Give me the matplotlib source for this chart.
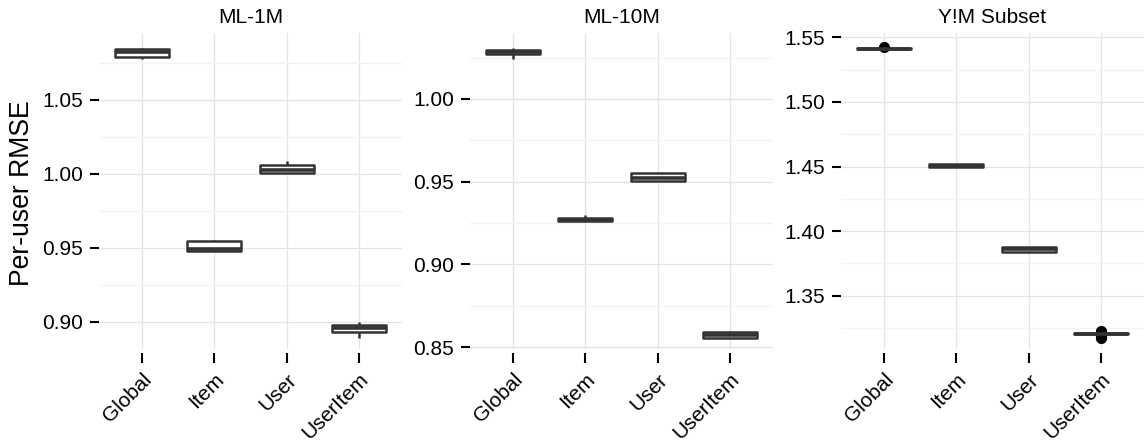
import matplotlib
matplotlib.use("Agg")
import matplotlib.pyplot as plt
from matplotlib.ticker import FixedLocator, FormatStrFormatter

plt.rcParams['font.family'] = ['Liberation Sans', 'DejaVu Sans']

categories = ["Global", "Item", "User", "UserItem"]
panel_titles = ["ML-1M", "ML-10M", "Y!M Subset"]

# ML-1M box statistics
ml1m_q1 = [1.0793, 0.9474, 1.0005, 0.8931]
ml1m_med = [1.0826, 0.9488, 1.0026, 0.8954]
ml1m_q3 = [1.0847, 0.9544, 1.0062, 0.8978]
ml1m_lo = [1.0780, 0.9474, 1.0003, 0.8886]
ml1m_hi = [1.0850, 0.9555, 1.0086, 0.8999]
ml1m_fliers = [[], [], [], []]

# ML-10M box statistics
ml10m_q1 = [1.0270, 0.9261, 0.9506, 0.8554]
ml10m_med = [1.0282, 0.9270, 0.9524, 0.8574]
ml10m_q3 = [1.0294, 0.9281, 0.9551, 0.8593]
ml10m_lo = [1.0244, 0.9258, 0.9505, 0.8552]
ml10m_hi = [1.0307, 0.9297, 0.9553, 0.8595]
ml10m_fliers = [[], [], [], []]

# Y!M Subset box statistics
ym_q1 = [1.5407, 1.4495, 1.3840, 1.3200]
ym_med = [1.5412, 1.4507, 1.3858, 1.3205]
ym_q3 = [1.5418, 1.4519, 1.3876, 1.3211]
ym_lo = [1.5405, 1.4494, 1.3827, 1.3198]
ym_hi = [1.5419, 1.4520, 1.3877, 1.3212]
ym_fliers = [[1.5424], [], [],
             [1.3226, 1.3222, 1.3218, 1.3215, 1.3194, 1.3189, 1.3183, 1.3178, 1.3172]]

ml1m_ticks = [0.90, 0.95, 1.00, 1.05]
ml10m_ticks = [0.85, 0.90, 0.95, 1.00]
ym_ticks = [1.35, 1.40, 1.45, 1.50, 1.55]

panels = [
    (ml1m_q1, ml1m_med, ml1m_q3, ml1m_lo, ml1m_hi, ml1m_fliers, ml1m_ticks, (0.8814, 1.0953)),
    (ml10m_q1, ml10m_med, ml10m_q3, ml10m_lo, ml10m_hi, ml10m_fliers, ml10m_ticks, (0.8488, 1.0399)),
    (ym_q1, ym_med, ym_q3, ym_lo, ym_hi, ym_fliers, ym_ticks, (1.3087, 1.5534)),
]

W, H = 1144, 444
fig = plt.figure(figsize=(W / 100, H / 100), dpi=100)
fig.patch.set_facecolor("white")

lefts = [99, 470, 841]
pw = 303
top_px, bot_px = 33, 349

box_col = "#333333"
major_col = "#e4e4e4"
minor_col = "#f2f2f2"

for i, (q1, med, q3, lo, hi, fl, ticks, ylim) in enumerate(panels):
    ax = fig.add_axes([lefts[i] / W, 1 - bot_px / H, pw / W, (bot_px - top_px) / H])
    for s in ax.spines.values():
        s.set_visible(False)
    ax.spines["bottom"].set_position(("outward", 3))
    stats = []
    for j, name in enumerate(categories):
        stats.append(dict(label=name, q1=q1[j], med=med[j], q3=q3[j],
                          whislo=lo[j], whishi=hi[j], fliers=fl[j]))
    pos = list(range(1, len(categories) + 1))
    ax.bxp(stats, positions=pos, widths=0.75, patch_artist=True, showcaps=False,
           boxprops=dict(facecolor="white", edgecolor=box_col, linewidth=1.8, joinstyle="round"),
           whiskerprops=dict(color=box_col, linewidth=1.8, solid_capstyle="butt"),
           medianprops=dict(color=box_col, linewidth=2.6, solid_capstyle="butt"),
           flierprops=dict(marker="o", markerfacecolor="black", markeredgecolor="black",
                           markersize=7, linestyle="none"),
           zorder=3)
    ax.set_xlim(0.4, 4.6)
    ax.set_ylim(*ylim)
    ax.yaxis.set_major_locator(FixedLocator(ticks))
    minors = [t + 0.025 for t in ticks] + [ticks[0] - 0.025]
    ax.yaxis.set_minor_locator(FixedLocator(minors))
    ax.yaxis.set_major_formatter(FormatStrFormatter("%.2f"))
    ax.set_xticks(pos)
    ax.set_xticklabels(categories)
    ax.grid(True, which="major", color=major_col, linewidth=0.9, zorder=0)
    ax.grid(True, which="minor", axis="y", color=minor_col, linewidth=0.9, zorder=0)
    ax.set_axisbelow(True)
    ax.tick_params(axis="x", which="major", length=7.5, width=1.5, color="black",
                   pad=4.5, labelsize=15, labelcolor="black")
    ax.tick_params(axis="y", which="major", length=6.5, width=1.5, color="black",
                   pad=5, labelsize=15, labelcolor="black")
    ax.tick_params(axis="y", which="minor", length=0)
    for lab in ax.get_xticklabels():
        lab.set_rotation(45)
        lab.set_ha("right")
        lab.set_va("top")
        lab.set_rotation_mode("anchor")
    ax.set_title(panel_titles[i], fontsize=15, pad=7)

fig.text(21.7 / W, 1 - 193 / H, "Per-user RMSE", rotation=90, ha="center", va="center",
         fontsize=19.2)

fig.savefig("out.png", dpi=100, facecolor="white")
